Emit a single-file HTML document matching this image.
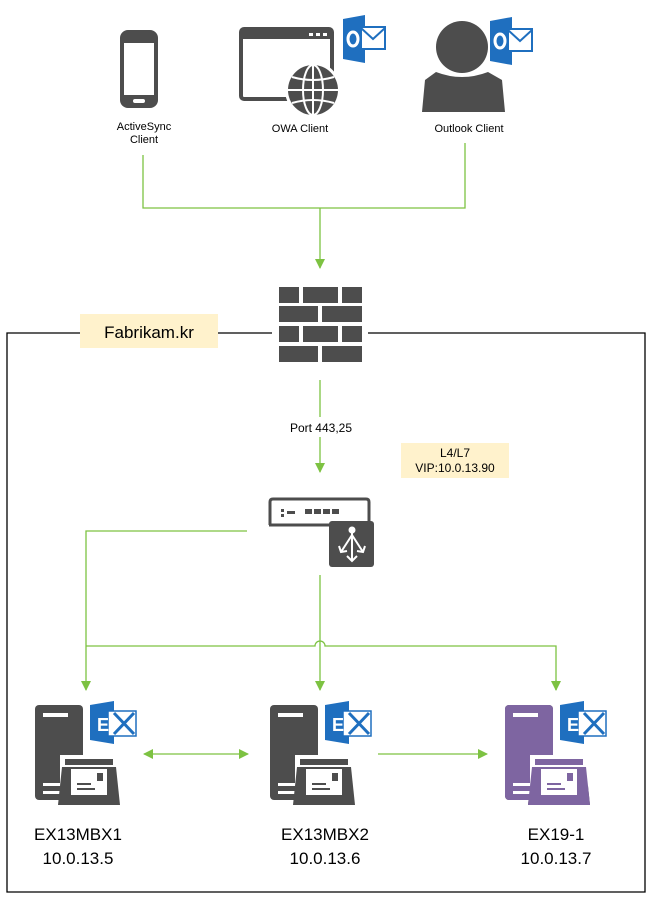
<!DOCTYPE html>
<html><head><meta charset="utf-8"><style>
html,body{margin:0;padding:0;background:#fff;}
svg{display:block;font-family:"Liberation Sans","Noto Sans CJK KR",sans-serif;}
</style></head><body>
<svg width="651" height="897" viewBox="0 0 651 897" xmlns="http://www.w3.org/2000/svg">
<defs>
<marker id="ah" markerWidth="10" markerHeight="10" refX="9" refY="5" orient="auto" markerUnits="userSpaceOnUse">
<path d="M0,0 L10,5 L0,10 Z" fill="#7dc242"/></marker>
<marker id="ahs" markerWidth="10" markerHeight="10" refX="1" refY="5" orient="auto" markerUnits="userSpaceOnUse">
<path d="M10,0 L0,5 L10,10 Z" fill="#7dc242"/></marker>
<g id="exl">
<path d="M0,4 L24,0 L24,43 L0,39 Z" fill="#1f6fbf"/>
<rect x="18" y="10" width="28" height="25" fill="#fff" stroke="#1f6fbf" stroke-width="1.5"/>
<path d="M24,12 L44,33 M44,12 L24,33" stroke="#1f6fbf" stroke-width="3"/>
<text x="7" y="30" font-size="18" fill="#fff" font-weight="bold">E</text>
</g>
<g id="olk">
<path d="M0,4 L22,0 L22,48 L0,44 Z" fill="#1f6fbf"/>
<rect x="18" y="12" width="24" height="22" fill="#fff" stroke="#1f6fbf" stroke-width="2"/>
<path d="M18,13 L30,24 L42,13" stroke="#1f6fbf" stroke-width="2" fill="none"/>
<ellipse cx="10" cy="24" rx="5" ry="7" fill="none" stroke="#fff" stroke-width="3"/>
</g>
<g id="srv-dark">
<rect x="0" y="0" width="48" height="95" rx="4" fill="#4d4d4d"/>
<rect x="8" y="8" width="25" height="4" fill="#fff"/>
<rect x="8" y="78" width="22" height="3" fill="#fff"/>
<rect x="8" y="86" width="22" height="3" fill="#fff"/>
<rect x="25" y="50" width="58" height="52" fill="#fff"/>
<rect x="30" y="54" width="48" height="6" fill="#4d4d4d"/>
<path d="M27,62 L81,62 L85,100 L23,100 Z" fill="#4d4d4d"/>
<rect x="36" y="64" width="36" height="26" fill="#fff"/>
<rect x="62" y="68" width="6" height="8" fill="#4d4d4d"/>
<rect x="42" y="78" width="14" height="2" fill="#4d4d4d"/>
<rect x="42" y="83" width="18" height="2" fill="#4d4d4d"/>
</g>
</defs>

<!-- outer box -->
<path d="M272,333 L7,333 L7,892 L645,892 L645,333 L368,333" fill="none" stroke="#000" stroke-width="1.3"/>
<rect x="80" y="314" width="138" height="34" fill="#fff2cc"/>
<text x="149" y="338" font-size="17" text-anchor="middle" fill="#000">Fabrikam.kr</text>

<!-- phone -->
<rect x="120" y="30" width="38" height="78" rx="8" fill="#4d4d4d"/>
<rect x="124" y="43" width="30" height="52" fill="#fff"/>
<rect x="133" y="99" width="12" height="4" rx="2" fill="#fff"/>
<text x="144" y="130" font-size="11" text-anchor="middle">ActiveSync</text>
<text x="144" y="143" font-size="11" text-anchor="middle">Client</text>

<!-- OWA -->
<rect x="241" y="29" width="91" height="70" rx="3" fill="none" stroke="#4d4d4d" stroke-width="4"/>
<rect x="241" y="29" width="91" height="10" fill="#4d4d4d"/>
<rect x="309" y="33" width="4" height="3" fill="#fff"/><rect x="316" y="33" width="4" height="3" fill="#fff"/><rect x="323" y="33" width="4" height="3" fill="#fff"/>
<circle cx="313" cy="90" r="28" fill="#fff"/>
<circle cx="313" cy="90" r="25" fill="#4d4d4d"/>
<g stroke="#fff" stroke-width="2" fill="none">
<ellipse cx="313" cy="90" rx="10" ry="25"/>
<line x1="313" y1="65" x2="313" y2="115"/>
<line x1="288" y1="90" x2="338" y2="90"/>
<path d="M292,77 Q313,83 334,77 M292,103 Q313,97 334,103"/>
</g>
<use href="#olk" x="343" y="15"/>
<text x="300" y="132" font-size="11" text-anchor="middle">OWA Client</text>

<!-- Outlook person -->
<circle cx="462" cy="47" r="26" fill="#4d4d4d"/>
<path d="M436,72 Q462,82 488,72 L502,80 L505,112 L422,112 L425,80 Z" fill="#4d4d4d"/>
<use href="#olk" x="490" y="17"/>
<text x="469" y="132" font-size="11" text-anchor="middle">Outlook Client</text>

<!-- client lines -->
<g stroke="#7dc242" stroke-width="1.3" fill="none">
<path d="M143,155 L143,208 L465,208 L465,143"/>
<path d="M320,208 L320,268" marker-end="url(#ah)"/>
<path d="M320,380 L320,417"/>
<path d="M320,437 L320,472" marker-end="url(#ah)"/>
<path d="M247,531 L86,531 L86,690" marker-end="url(#ah)"/>
<path d="M320,575 L320,690" marker-end="url(#ah)"/>
<path d="M86,646 L315,646 A5,5 0 0 1 325,646 L556,646 L556,690" />
<path d="M556,680 L556,690" marker-end="url(#ah)"/>
<path d="M144,754 L248,754" marker-start="url(#ahs)" marker-end="url(#ah)"/>
<path d="M378,754 L487,754" marker-end="url(#ah)"/>
</g>

<!-- firewall -->
<g fill="#4d4d4d">
<rect x="279" y="287" width="20" height="16"/><rect x="303" y="287" width="35" height="16"/><rect x="342" y="287" width="20" height="16"/>
<rect x="279" y="306" width="39" height="16"/><rect x="322" y="306" width="40" height="16"/>
<rect x="279" y="326" width="20" height="16"/><rect x="303" y="326" width="35" height="16"/><rect x="342" y="326" width="20" height="16"/>
<rect x="279" y="346" width="39" height="16"/><rect x="322" y="346" width="40" height="16"/>
</g>
<text x="321" y="432" font-size="12" text-anchor="middle">Port 443,25</text>
<rect x="401" y="443" width="108" height="35" fill="#fff2cc"/>
<text x="455" y="457" font-size="12" text-anchor="middle">L4/L7</text>
<text x="455" y="472" font-size="12" text-anchor="middle">VIP:10.0.13.90</text>

<!-- load balancer -->
<path d="M270,525 L270,502 Q270,499 273,499 L366,499 Q369,499 369,502 L369,522" fill="none" stroke="#4d4d4d" stroke-width="3"/>
<path d="M269,525 L330,525" stroke="#4d4d4d" stroke-width="3"/>
<g fill="#4d4d4d"><rect x="281" y="509" width="3" height="3"/><rect x="281" y="514" width="3" height="3"/><rect x="287" y="511" width="8" height="3"/>
<rect x="305" y="509" width="7" height="5"/><rect x="314" y="509" width="7" height="5"/><rect x="323" y="509" width="7" height="5"/><rect x="332" y="509" width="7" height="5"/></g>
<rect x="329" y="521" width="45" height="46" rx="3" fill="#4d4d4d"/>
<g stroke="#fff" stroke-width="2" fill="none">
<circle cx="352" cy="530" r="2.5" fill="#fff"/>
<path d="M352,532 L352,560 M352,535 L341,552 M352,535 L363,552 M347,556 L352,561 L357,556 M339,546 L341,552 L347,551 M365,546 L363,552 L357,551"/>
</g>

<!-- servers -->
<use href="#srv-dark" x="35" y="705"/>
<use href="#exl" x="90" y="701"/>
<use href="#srv-dark" x="270" y="705"/>
<use href="#exl" x="325" y="701"/>
<use href="#srv-dark" x="505" y="705" style="filter:none"/>
<g transform="translate(505,705)">
<rect x="0" y="0" width="48" height="95" rx="4" fill="#7e65a1"/>
<rect x="8" y="8" width="25" height="4" fill="#fff"/>
<rect x="8" y="78" width="22" height="3" fill="#fff"/>
<rect x="8" y="86" width="22" height="3" fill="#fff"/>
<rect x="25" y="50" width="58" height="52" fill="#fff"/>
<rect x="30" y="54" width="48" height="6" fill="#7e65a1"/>
<path d="M27,62 L81,62 L85,100 L23,100 Z" fill="#7e65a1"/>
<rect x="36" y="64" width="36" height="26" fill="#fff"/>
<rect x="62" y="68" width="6" height="8" fill="#7e65a1"/>
<rect x="42" y="78" width="14" height="2" fill="#7e65a1"/>
<rect x="42" y="83" width="18" height="2" fill="#7e65a1"/>
</g>
<use href="#exl" x="560" y="701"/>

<g font-size="17" text-anchor="middle">
<text x="78" y="840">EX13MBX1</text><text x="78" y="864">10.0.13.5</text>
<text x="325" y="840">EX13MBX2</text><text x="325" y="864">10.0.13.6</text>
<text x="556" y="840">EX19-1</text><text x="556" y="864">10.0.13.7</text>
</g>
</svg>
</body></html>
